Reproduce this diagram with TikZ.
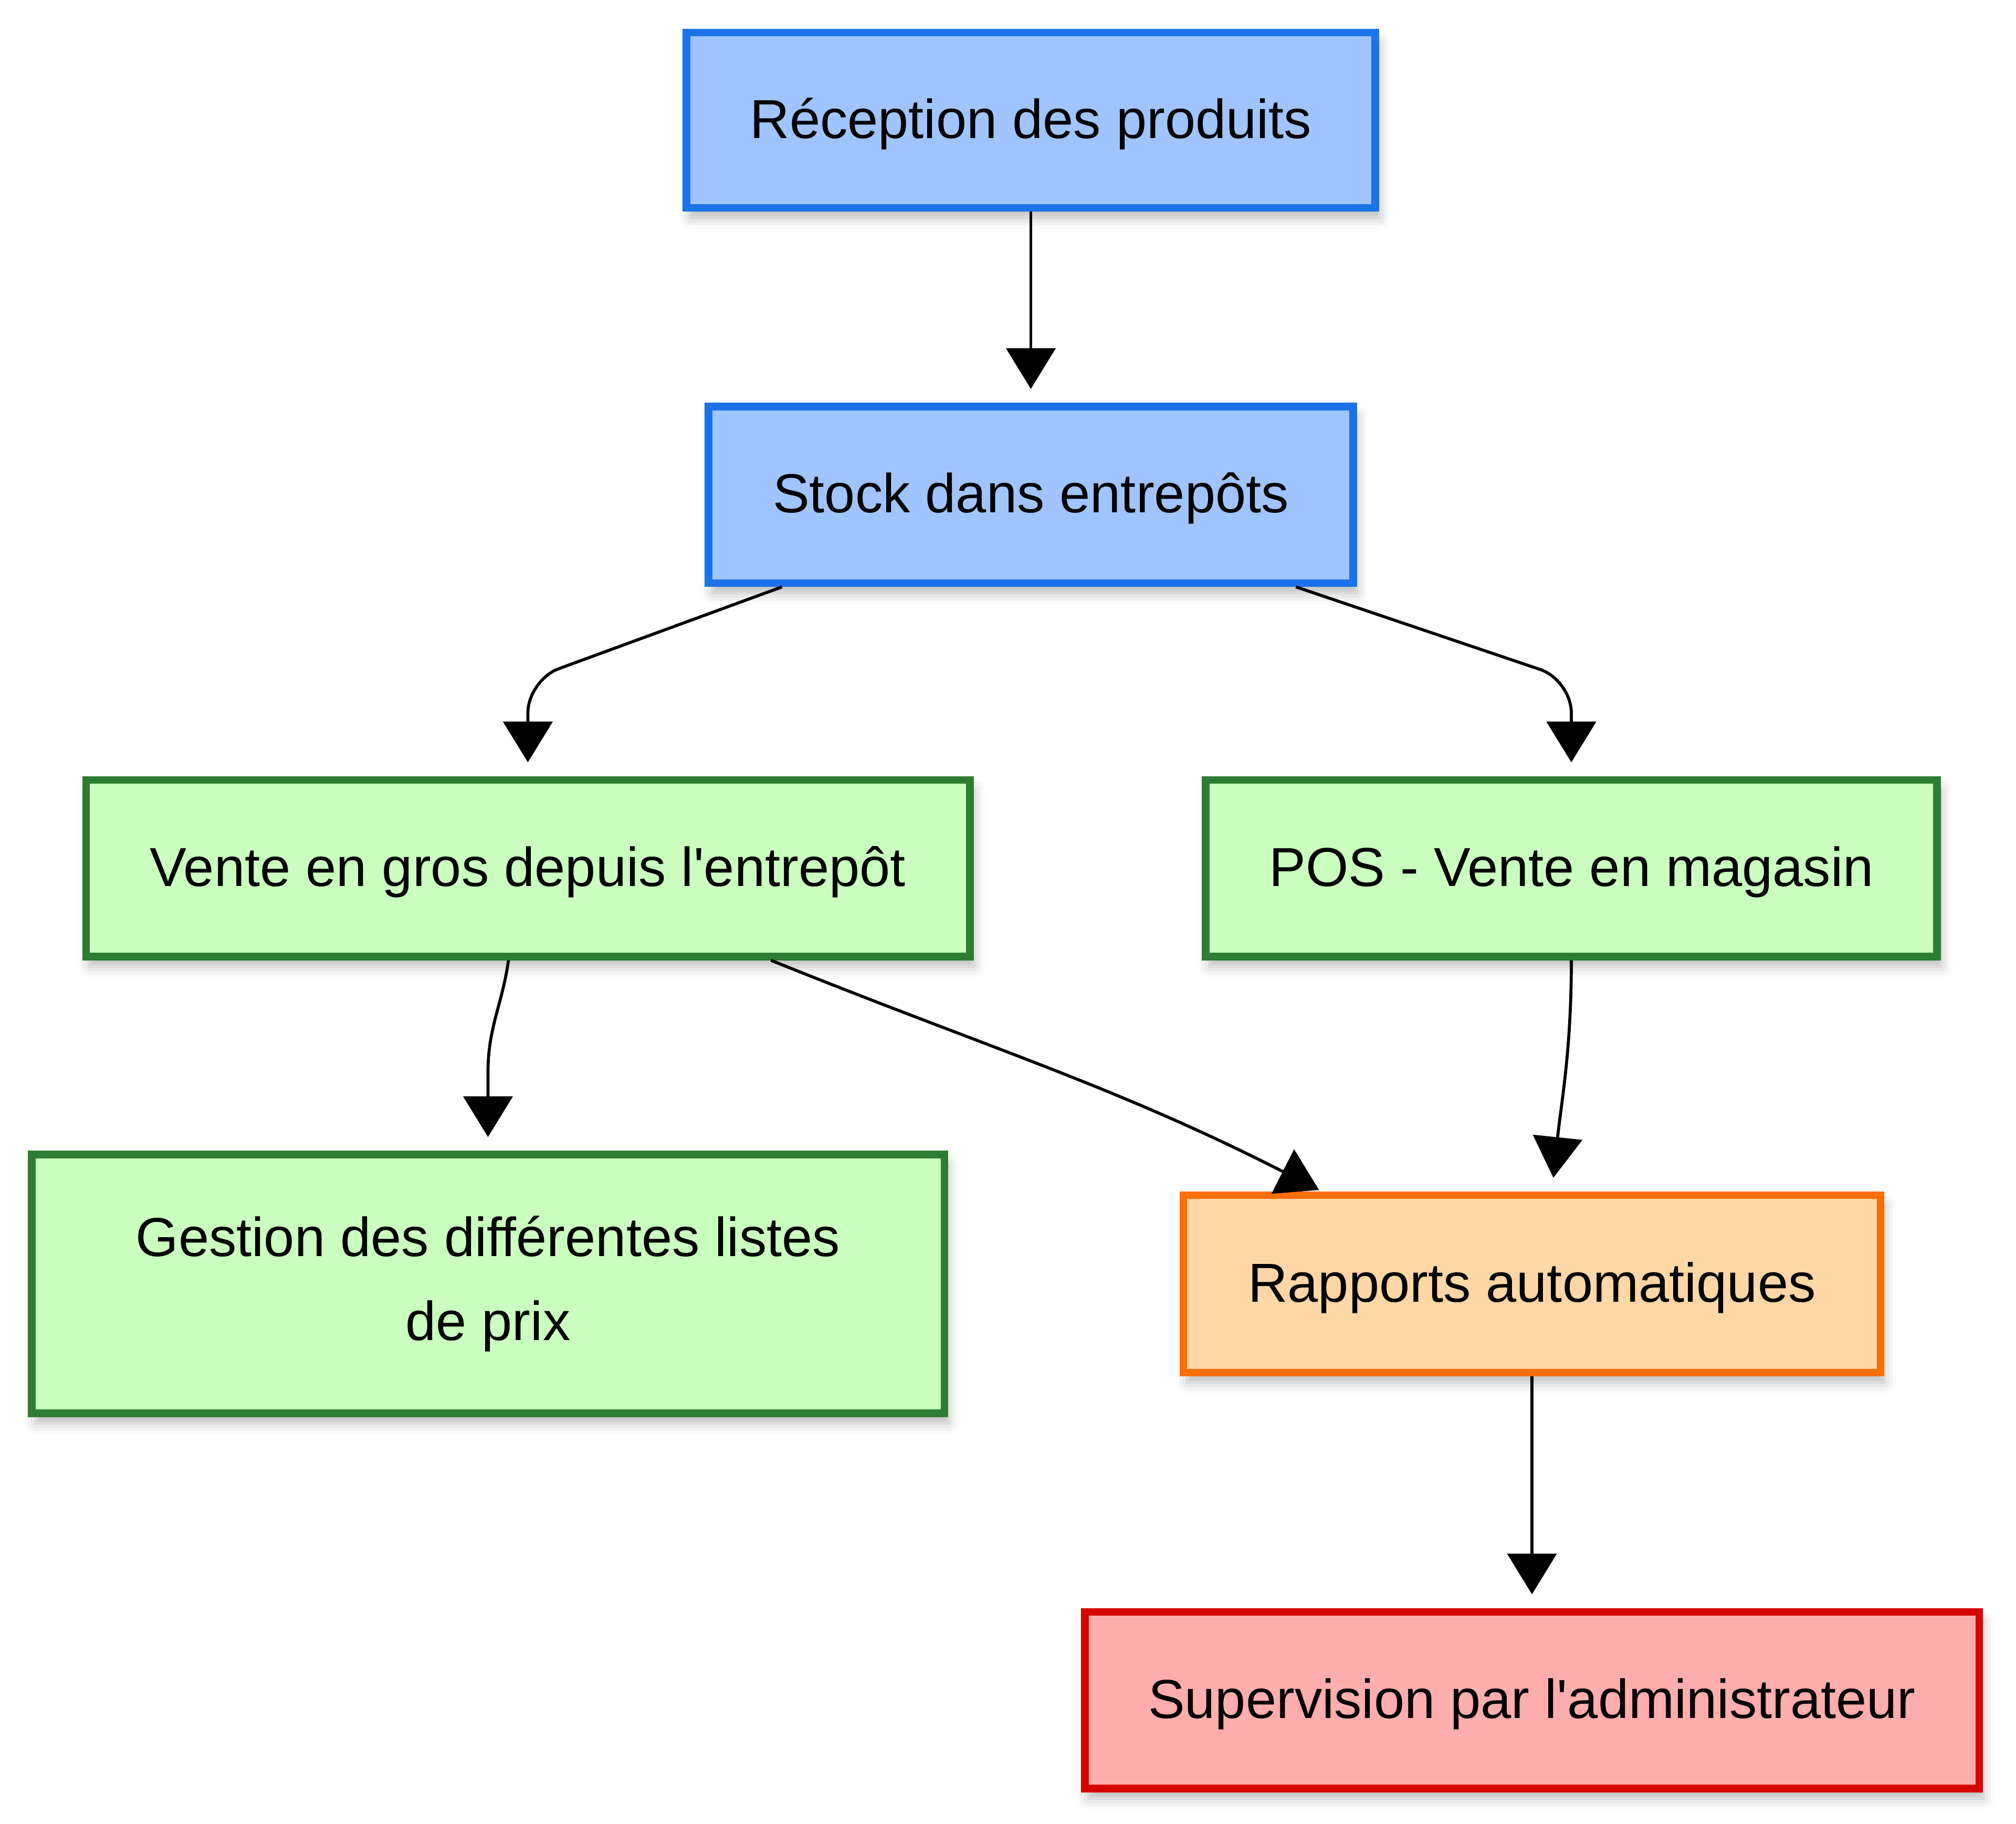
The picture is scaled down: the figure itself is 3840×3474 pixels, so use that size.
\documentclass[tikz,border=0pt]{standalone}
\usepackage{fontspec}
\setmainfont{Liberation Sans}
\usepackage{tikz}
\usetikzlibrary{arrows.meta,shapes,shadows,shadows.blur}
\usetikzlibrary{positioning}
\usetikzlibrary{calc}
\definecolor{blueB}{HTML}{1A73E8}
\definecolor{blueF}{HTML}{A0C4FF}
\definecolor{greenB}{HTML}{2E7D32}
\definecolor{greenF}{HTML}{CAFFBF}
\definecolor{orangeB}{HTML}{FF6F00}
\definecolor{orangeF}{HTML}{FFD6A5}
\definecolor{redB}{HTML}{D50000}
\definecolor{redF}{HTML}{FFADAD}
\tikzstyle{Abox}=[draw,rectangle,line width=3.3pt,align=center,
                font=\fontsize{23.8pt}{36.3pt}\selectfont,minimum height=2.69cm,
                blur shadow={shadow xshift=0.06cm,shadow yshift=-0.15cm,
                  shadow blur radius=0.17cm,shadow opacity=28}]
\tikzstyle{Aline}=[text height=21.4pt,text depth=5.8pt]
\tikzstyle{Astock}=[Abox,Aline,draw=blueB,fill=blueF]
\tikzstyle{Avert}=[Abox,draw=greenB,fill=greenF]
\tikzstyle{Avente}=[Avert,Aline]
\tikzstyle{Arapport}=[Abox,Aline,draw=orangeB,fill=orangeF]
\tikzstyle{Aadmin}=[Abox,Aline,draw=redB,fill=redF]
\tikzstyle{flow}=[draw,-{Triangle[length=0.62cm,width=0.75cm]},line width=1.3pt,
                shorten >=0.21cm]

\begin{document}
\begin{tikzpicture}[x=0.008cm,y=0.008cm]
\path[use as bounding box] (0,0) rectangle (3840,-3474);

\node[Astock,minimum width=10.49cm,minimum height=2.67cm] (rec) at (1963.5,-229) {Réception des produits};
\node[Astock,minimum width=9.82cm,below=2.91cm of rec] (stock) {Stock dans entrepôts};

\node[Avente,minimum width=13.46cm] (vente) at (1005.5,-1654) {Vente en gros depuis l\textquotesingle entrepôt};
\node[Avente,minimum width=11.14cm] (pos) at (2993,-1654) {POS - Vente en magasin};
\node[Avert,minimum width=13.90cm,minimum height=3.94cm] (gest) at (929.5,-2446)
  {Gestion des différentes listes\\de prix};

\node[Arapport,minimum width=10.62cm,minimum height=2.70cm] (rapp) at (2918,-2446) {Rapports automatiques};
\node[Aadmin,minimum width=13.62cm,below=3.53cm of rapp] (sup) {Supervision par l\textquotesingle administrateur};

\path
(rec) edge[flow] (stock)
(rapp) edge[flow] (sup)
;
\draw[flow,rounded corners=0.5cm] ($(stock.south)+(-474,0)$) -- ($(vente.north)+(0,183)$) -- (vente.north);
\draw[flow,rounded corners=0.5cm] ($(stock.south)+(505,0)$) -- ($(pos.north)+(0,183)$) -- (pos.north);
\draw[flow] ($(vente.south)+(-37,0)$) to[out=-98,in=90] ($(gest.north)+(0,150)$) -- (gest.north);
\draw[flow,shorten >=0.05cm] ($(vente.south)+(463,0)$) to[out=-22,in=153] ($(rapp.north)+(-400,0)$);
\draw[flow] (pos.south) to[out=-90,in=84] ($(rapp.north)+(38,0)$);

\end{tikzpicture}
\end{document}
